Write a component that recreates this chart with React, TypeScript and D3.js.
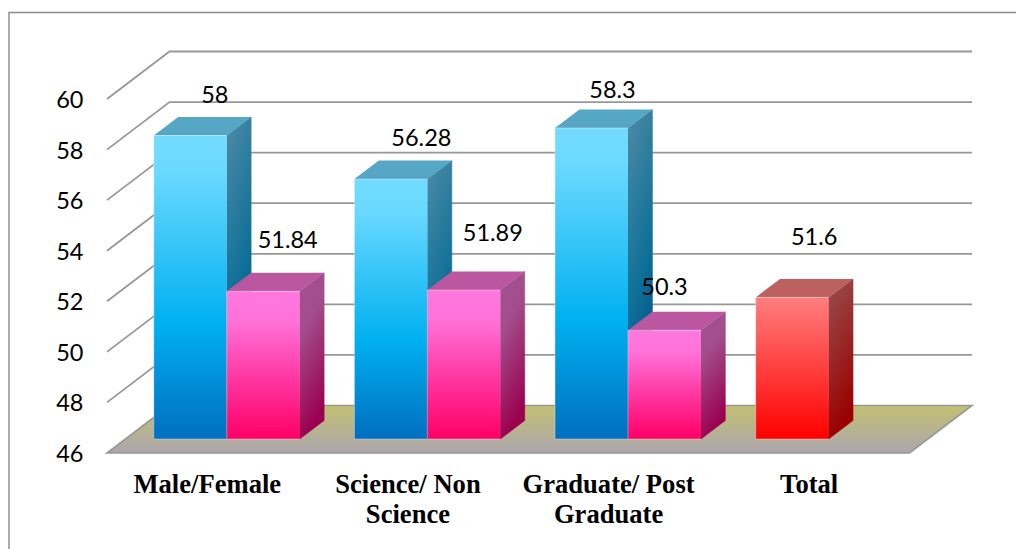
import React from "react";
import * as d3 from "d3";

// Chart data
const categories = ["Male/Female", "Science/ Non Science", "Graduate/ Post Graduate", "Total"];
const categoryLines = [["Male/Female"], ["Science/ Non", "Science"], ["Graduate/ Post", "Graduate"], ["Total"]];
const firstSeries = [58, 56.28, 58.3, 51.6];
const secondSeries: (number | null)[] = [51.84, 51.89, 50.3, null];
const firstLabels = ["58", "56.28", "58.3", "51.6"];
const secondLabels = ["51.84", "51.89", "50.3", ""];
const yTicks = [46, 48, 50, 52, 54, 56, 58, 60];

// Hand placement of the data labels relative to each bar's top centre
const firstNudge = [[24.5, -42], [30.5, -42], [21, -39], [22, -61]];
const secondNudge = [[24.5, -52], [29, -58], [0, -44], [0, 0]];

const W = 1016;
const H = 549;
const DEPTH_X = 62.5;
const DEPTH_Y = 47.5;
const BAR_Z0 = 0.295;
const BAR_Z1 = 0.685;
const FLOOR_LEFT = 107;
const FLOOR_RIGHT = 909.5;
const BAR_SHIFT = 1;

const y = d3.scaleLinear().domain([46, 60]).range([453, 99]);
const x0 = d3.scaleBand<string>().domain(categories).range([FLOOR_LEFT, FLOOR_RIGHT]);
const x1 = d3.scaleBand<string>().domain(["a", "b"]).range([0, x0.bandwidth()]).paddingOuter(0.375);

const project = (px: number, v: number, z: number): [number, number] => [px + DEPTH_X * z, y(v) - DEPTH_Y * z];
const poly = (pts: [number, number][]) => pts.map((p) => p.map((n) => n.toFixed(1)).join(",")).join(" ");

const GRID = "#989898";

type Palette = "blue" | "pink" | "red";

function Bar({ left, value, palette }: { left: number; value: number; palette: Palette }) {
  const w = x1.bandwidth();
  const a = project(left, value, BAR_Z0);
  const b = project(left + w, value, BAR_Z0);
  const c = project(left + w, 46, BAR_Z0);
  const d = project(left, 46, BAR_Z0);
  const e = project(left, value, BAR_Z1);
  const f = project(left + w, value, BAR_Z1);
  const g = project(left + w, 46, BAR_Z1);
  return (
    <g>
      <polygon points={poly([b, f, g, c])} fill={`url(#${palette}Side)`} stroke={`url(#${palette}Side)`} strokeWidth={0.6} />
      <polygon points={poly([a, e, f, b])} fill={`url(#${palette}Top)`} />
      <polygon points={poly([a, b, c, d])} fill={`url(#${palette}Front)`} />
      <path
        d={`M${d[0]},${d[1]} L${a[0]},${a[1]} L${b[0]},${b[1]} M${d[0]},${d[1]} L${c[0]},${c[1]}`}
        fill="none"
        stroke="#ffffff"
        strokeOpacity={0.35}
        strokeWidth={1}
      />
    </g>
  );
}

function Stops({ stops }: { stops: [number, string][] }) {
  return (
    <>
      {stops.map(([o, col]) => (
        <stop key={o} offset={o} stopColor={col} />
      ))}
    </>
  );
}

export default function App() {
  const floor: [number, number][] = [
    project(FLOOR_LEFT, 46, 0),
    project(FLOOR_RIGHT, 46, 0),
    project(FLOOR_RIGHT, 46, 1),
    project(FLOOR_LEFT, 46, 1),
  ];
  const axisFont = "Lato, 'Open Sans', sans-serif";
  return (
    <svg width={W} height={H} viewBox={`0 0 ${W} ${H}`} style={{ position: "absolute", left: 0, top: 0, background: "#fff" }}>
      <defs>
        <linearGradient id="floorFill" x1="0" y1="0" x2="0" y2="1">
          <Stops stops={[[0, "#c2c071"], [1, "#aca6ae"]]} />
        </linearGradient>
        <linearGradient id="blueFront" x1="0" y1="0" x2="0" y2="1">
          <Stops stops={[[0, "#72dcff"], [0.12, "#6ad9ff"], [0.62, "#00b0f0"], [1, "#006fc0"]]} />
        </linearGradient>
        <linearGradient id="blueSide" x1="0" y1="0" x2="0.25" y2="1">
          <Stops stops={[[0, "#4f8ba5"], [0.6, "#0f7098"], [1, "#004f86"]]} />
        </linearGradient>
        <linearGradient id="blueTop" x1="0" y1="0" x2="0" y2="1">
          <Stops stops={[[0, "#56a8c6"], [1, "#56a4c4"]]} />
        </linearGradient>
        <linearGradient id="pinkFront" x1="0" y1="0" x2="0" y2="1">
          <Stops stops={[[0, "#ff78de"], [0.2, "#ff72d8"], [0.6, "#ff35a0"], [1, "#ff0066"]]} />
        </linearGradient>
        <linearGradient id="pinkSide" x1="0" y1="0" x2="0.25" y2="1">
          <Stops stops={[[0, "#a25092"], [0.35, "#a24e8c"], [1, "#9a004e"]]} />
        </linearGradient>
        <linearGradient id="pinkTop" x1="0" y1="0" x2="0" y2="1">
          <Stops stops={[[0, "#bb56a0"], [1, "#bb56a0"]]} />
        </linearGradient>
        <linearGradient id="redFront" x1="0" y1="0" x2="0" y2="1">
          <Stops stops={[[0, "#ff7e7e"], [1, "#ff0000"]]} />
        </linearGradient>
        <linearGradient id="redSide" x1="0" y1="0" x2="0.25" y2="1">
          <Stops stops={[[0, "#985050"], [1, "#9a0000"]]} />
        </linearGradient>
        <linearGradient id="redTop" x1="0" y1="0" x2="0" y2="1">
          <Stops stops={[[0, "#bc6060"], [1, "#bc6060"]]} />
        </linearGradient>
      </defs>

      {/* Outer frame: only the left and top edges fall inside the canvas */}
      <path d={`M9,${H} V12.5 H${W}`} fill="none" stroke="#8a8a8a" strokeWidth={1.4} />

      {/* Floor */}
      <polygon points={poly(floor)} fill="url(#floorFill)" />
      <path d={`M${floor[3][0]},${floor[3][1]} L${floor[2][0]},${floor[2][1]} L${floor[1][0]},${floor[1][1]} L${floor[0][0]},${floor[0][1]} L${floor[3][0]},${floor[3][1]}`} fill="none" stroke={GRID} strokeWidth={1.6} />

      {/* Gridlines running along the side wall and the back wall */}
      {yTicks.slice(1).map((t) => {
        const p0 = project(FLOOR_LEFT, t, 0);
        const p1 = project(FLOOR_LEFT, t, 1);
        const p2 = project(FLOOR_RIGHT, t, 1);
        return <polyline key={t} points={poly([p0, p1, p2])} fill="none" stroke={GRID} strokeWidth={1.8} />;
      })}

      {/* Bars */}
      {categories.map((cat, i) => {
        const left = x0(cat)! + BAR_SHIFT;
        const second = secondSeries[i];
        return (
          <g key={cat}>
            <Bar left={left + x1("a")!} value={firstSeries[i]} palette={cat === "Total" ? "red" : "blue"} />
            {second !== null && <Bar left={left + x1("b")!} value={second} palette="pink" />}
          </g>
        );
      })}

      {/* Y axis labels */}
      {yTicks.map((t) => (
        <text key={t} x={83.5} y={y(t)} textAnchor="end" dominantBaseline="central" fontFamily={axisFont} fontSize={23.5} fill="#000">
          {t}
        </text>
      ))}

      {/* Data labels */}
      {categories.map((cat, i) => {
        const w = x1.bandwidth();
        const [ax, ay] = project(x0(cat)! + BAR_SHIFT + x1("a")! + w / 2, firstSeries[i], BAR_Z0);
        const second = secondSeries[i];
        const b = second !== null ? project(x0(cat)! + BAR_SHIFT + x1("b")! + w / 2, second, BAR_Z0) : null;
        return (
          <g key={cat} fontFamily={axisFont} fontSize={23.5} fill="#000" textAnchor="middle" dominantBaseline="central">
            <text x={ax + firstNudge[i][0]} y={ay + firstNudge[i][1]}>{firstLabels[i]}</text>
            {b && <text x={b[0] + secondNudge[i][0]} y={b[1] + secondNudge[i][1]}>{secondLabels[i]}</text>}
          </g>
        );
      })}

      {/* Category labels */}
      {categories.map((cat, i) => {
        const cx = x0(cat)! + x0.bandwidth() / 2;
        return (
          <text key={cat} fontFamily="'Liberation Serif', serif" fontWeight="bold" fontSize={26.6} fill="#000" textAnchor="middle">
            {categoryLines[i].map((line, j) => (
              <tspan key={line} x={cx} y={493 + j * 30}>{line}</tspan>
            ))}
          </text>
        );
      })}
    </svg>
  );
}
